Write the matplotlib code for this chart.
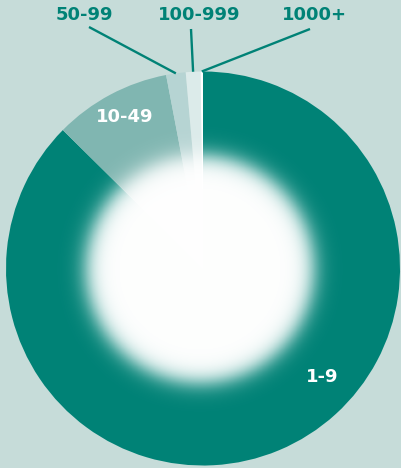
import numpy as np
import matplotlib
matplotlib.use("Agg")
import matplotlib.pyplot as plt

# Enterprise size classes (number of employees) and their share in percent
categories = ["1-9", "10-49", "50-99", "100-999", "1000+"]
shares = [87.4, 9.6, 1.6, 1.2, 0.2]

bg = "#c6dcd9"
teal = "#008276"
colors = [teal, "#80b6b1", "#b6d4d3", "#dcebea", "#ffffff"]

W, H = 402, 468
fig = plt.figure(figsize=(W / 100, H / 100), dpi=100)
fig.patch.set_facecolor(bg)
ax = fig.add_axes([0, 0, 1, 1])
ax.set_facecolor(bg)

cx, cy, R = 203, H - 268.5, 197
wedges, _ = ax.pie(shares, colors=colors, startangle=90, counterclock=False,
                   radius=R, center=(cx, cy),
                   wedgeprops=dict(linewidth=0, antialiased=True))

# soft white disc in the middle of the ring
gx, gy = 200, H - 269
r_mid, soft = 114.0, 6.0
n = 400
half = 170
xs = np.linspace(gx - half, gx + half, n)
ys = np.linspace(gy - half, gy + half, n)
X, Y = np.meshgrid(xs, ys)
r = np.hypot(X - gx, Y - gy)
alpha = 1.0 / (1.0 + np.exp((r - r_mid) / soft))
img = np.ones((n, n, 4))
img[..., 3] = alpha
ax.imshow(img, extent=(gx - half, gx + half, gy - half, gy + half),
          origin="lower", zorder=3, interpolation="bilinear")

font = dict(family="DejaVu Sans", fontweight="bold", fontsize=13)

# labels outside the ring with leader lines to the slice tips
outer = {"50-99": (84, 14.5, 89, 27),
         "100-999": (199.5, 14.5, 191, 29),
         "1000+": (314.5, 14.5, 310, 29)}
for w, cat in zip(wedges, categories):
    if cat in outer:
        tx, ty, lx, ly = outer[cat]
        mid = np.deg2rad((w.theta1 + w.theta2) / 2)
        ex, ey = cx + R * np.cos(mid), cy + R * np.sin(mid)
        ax.plot([lx, ex], [H - ly, ey], color=teal, lw=1.7,
                solid_capstyle="butt", zorder=4)
        ax.text(tx, H - ty, cat, color=teal, ha="center", va="center",
                zorder=5, **font)

# labels inside the ring
inner = {"10-49": (125, 117), "1-9": (322, 377.5)}
for cat, (tx, ty) in inner.items():
    ax.text(tx, H - ty, cat, color="white", ha="center", va="center",
            zorder=5, **font)

ax.set_xlim(0, W)
ax.set_ylim(0, H)
ax.set_aspect("equal")
ax.axis("off")

fig.savefig("out.png", dpi=100, facecolor=bg)
